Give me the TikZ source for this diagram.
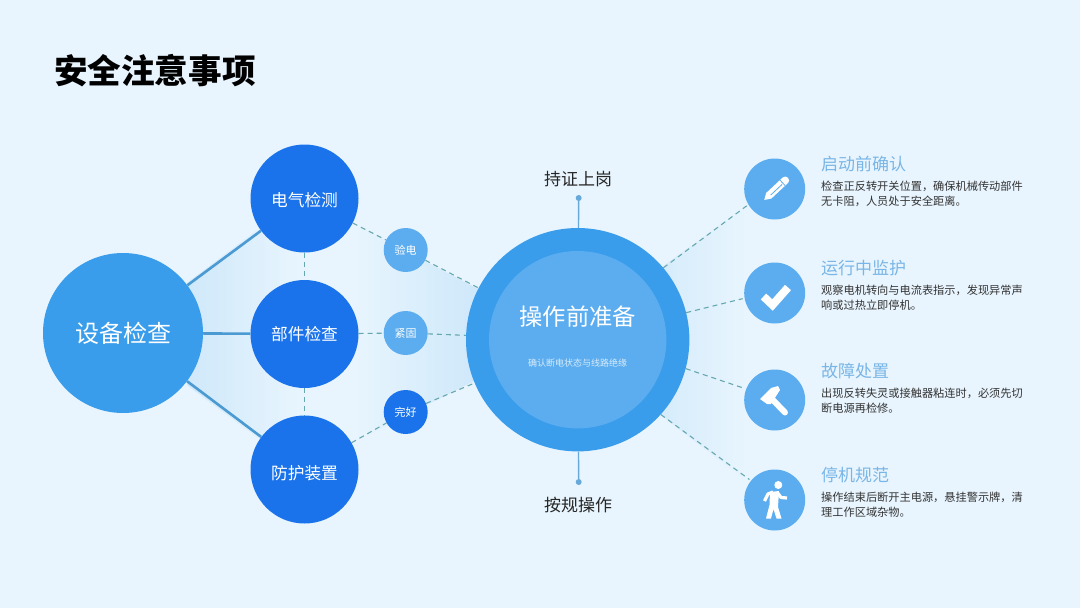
\documentclass[tikz,border=0pt]{standalone}
\usepackage{fontspec}
\setmainfont{Noto Sans CJK SC}
\usetikzlibrary{backgrounds}
\definecolor{pagebg}{HTML}{E8F5FE}
\definecolor{bandblue}{HTML}{CBE6F9}
\definecolor{ballblue}{HTML}{399DEB}
\definecolor{balldark}{HTML}{1A73EB}
\definecolor{balllight}{HTML}{5CADEF}
\definecolor{linkblue}{HTML}{4C9AD2}
\definecolor{dashgreen}{HTML}{66A8B0}
\definecolor{headblue}{HTML}{79B5E6}
% x1, top1, bottom1, x2, top2, bottom2, strength1, strength2
\newcommand{\fadeband}[8]{
  \foreach \i in {0,...,39}{
    \pgfmathsetmacro{\ta}{\i/40}
    \pgfmathsetmacro{\tb}{(\i+1.5)/40}
    \pgfmathsetmacro{\pc}{#7+(#8-#7)*\ta}
    \fill[bandblue!\pc!pagebg]
      ({#1+(#4-#1)*\ta},{#2+(#5-#2)*\ta}) -- ({#1+(#4-#1)*\tb},{#2+(#5-#2)*\tb}) --
      ({#1+(#4-#1)*\tb},{#3+(#6-#3)*\tb}) -- ({#1+(#4-#1)*\ta},{#3+(#6-#3)*\ta}) -- cycle;
  }
}

\begin{document}
\begin{tikzpicture}[
    x=1pt, y=-1pt,
    ball/.style={circle, inner sep=0pt, text=white},
    bigball/.style={ball, minimum size=160pt, fill=ballblue, font=\fontsize{24}{24}\selectfont},
    midball/.style={ball, minimum size=108pt, fill=balldark, font=\fontsize{16.7}{17}\selectfont},
    smallball/.style={ball, minimum size=44pt, fill=balllight, font=\fontsize{11}{11}\selectfont},
    iconball/.style={ball, minimum size=61pt, fill=balllight, outer sep=2pt},
    linksolid/.style={line width=2.6pt, linkblue},
    linkdash/.style={line width=1.1pt, dashgreen, dash pattern=on 5pt off 4pt},
    stemline/.style={line width=1.4pt, linkblue!85},
    stemdot/.style={circle, inner sep=0pt, minimum size=6pt, fill=linkblue!85},
    sidetext/.style={font=\fontsize{17}{17}\selectfont, text=black!85},
    headtext/.style={anchor=west, inner sep=0pt, font=\fontsize{17}{17}\selectfont, text=headblue},
    desctext/.style={anchor=west, inner sep=0pt, align=left, text=black!80, font=\fontsize{11.2}{15.3}\selectfont},
    glyph/.style={white, line join=miter}
]

% Balls
\node[bigball] (device) at (123,333) {设备检查};
\node[midball] (elec) at (304.5,198.5) {\raisebox{-1.5pt}[\height][\depth]{电气检测}};
\node[midball] (parts) at (304.5,334) {部件检查};
\node[midball] (guard) at (304.5,469.5) {\raisebox{-3.5pt}[\height][\depth]{防护装置}};
\node[smallball] (yan) at (405.7,250) {验电};
\node[smallball] (jin) at (405.7,333) {紧固};
\node[smallball, fill=balldark] (wan) at (405.7,412) {完好};

% Centre
\node[ball, minimum size=223.4pt, fill=ballblue] (prep) at (577.7,339.7) {};
\node[ball, minimum size=177.4pt, fill=balllight] (prepin) at (577.7,339.7) {};
\node[text=white, font=\fontsize{23.3}{24}\selectfont] (preptitle) at (577.7,316.7) {操作前准备};
\node[text=white!75!balllight, font=\fontsize{9}{9}\selectfont] (prepsub) at (577.7,362.7) {确认断电状态与线路绝缘};
\node[stemdot] (certdot) at (578.7,198) {};
\node[stemdot] (ruledot) at (578.7,482) {};
\node[sidetext] (cert) at (578,179) {持证上岗};
\node[sidetext] (rule) at (578,505) {按规操作};

% Icons
\node[iconball] (icona) at (774.7,189) {};
\node[iconball] (iconb) at (774.7,293) {};
\node[iconball] (iconc) at (774.7,400) {};
\node[iconball] (icond) at (774.7,500) {};

% Texts
\node[anchor=west, inner sep=0pt, font=\fontsize{33.6}{34}\selectfont\bfseries] (title) at (54,71) {安全注意事项};
\node[headtext] (heada) at (821,164) {启动前确认};
\node[desctext] (desca) at (821,194) {检查正反转开关位置，确保机械传动部件\\无卡阻，人员处于安全距离。};
\node[headtext] (headb) at (821,268) {运行中监护};
\node[desctext] (descb) at (821,298) {观察电机转向与电流表指示，发现异常声\\响或过热立即停机。};
\node[headtext] (headc) at (821,371) {故障处置};
\node[desctext] (descc) at (821,401) {出现反转失灵或接触器粘连时，必须先切\\断电源再检修。};
\node[headtext] (headd) at (821,475) {停机规范};
\node[desctext] (descd) at (821,505) {操作结束后断开主电源，悬挂警示牌，清\\理工作区域杂物。};

% Bands and connectors
\begin{scope}[on background layer]
\fill[pagebg] (0,0) rectangle (1080,608);
\fadeband{187}{283}{385}{300}{198}{469}{85}{0}
\fadeband{352}{223}{443}{480}{290}{378}{0}{90}
\fadeband{662}{267}{416}{748}{205}{482}{60}{0}

\draw[linksolid] (device) -- (elec);
\draw[linksolid] (device) -- (parts);
\draw[linksolid] (device) -- (guard);
\draw[linkdash] (elec) -- (parts);
\draw[linkdash] (parts) -- (guard);
\draw[linkdash] (elec) -- (yan);
\draw[linkdash] (parts) -- (jin);
\draw[linkdash] (guard) -- (wan);
\draw[linkdash] (yan) -- (prep);
\draw[linkdash] (jin) -- (prep);
\draw[linkdash] (wan) -- (prep);
\draw[linkdash] (prep.40.5) -- (icona.211.7);
\draw[linkdash] (prep.14.2) -- (iconb.190);
\draw[linkdash] (prep.-15.6) -- (iconc.159.6);
\draw[linkdash] (prep.-42.5) -- (icond.141);
\draw[stemline] (certdot) -- (prep);
\draw[stemline] (ruledot) -- (prep);
\end{scope}

% Pencil
\begin{scope}[shift={(icona)}, xshift=1.3pt, rotate=43]
\fill[glyph] (-16,0) -- (-10,-3.8) -- (13,-3.8) to[out=0, in=0, looseness=1.5] (13,3.8) -- (-10,3.8) -- cycle;
\draw[balllight, line width=0.8pt] (9,-3.8) -- (9,3.8);
\draw[balllight, line width=0.8pt] (-8,0.8) -- (7.5,0.8);
\end{scope}

% Check
\draw[glyph, line width=8pt] (763.5,296.5) -- (772.5,305) -- (788,287.5);

% Hammer
\fill[glyph] (760,399) -- (771,388) -- (778,386) -- (780,390) -- (771,404) -- (767,404) -- cycle;
\draw[glyph, line width=6pt, line cap=round] (772,399) -- (785,412.5);

% Walker
\fill[white] (778.3,485) circle (4);
\fill[white] (770,492) -- (779,491) -- (778,507) -- (781.5,518.5) -- (776.5,518.5) -- (773.5,509) -- (771,518.5) -- (766,518.5) -- (769.5,505) -- cycle;
\draw[white, line width=3.2pt, line join=round] (764.5,501) -- (768,494) -- (773,492);
\draw[white, line width=3.2pt, line join=round] (777,492) -- (781,497.5) -- (787,498);

\end{tikzpicture}
\end{document}
